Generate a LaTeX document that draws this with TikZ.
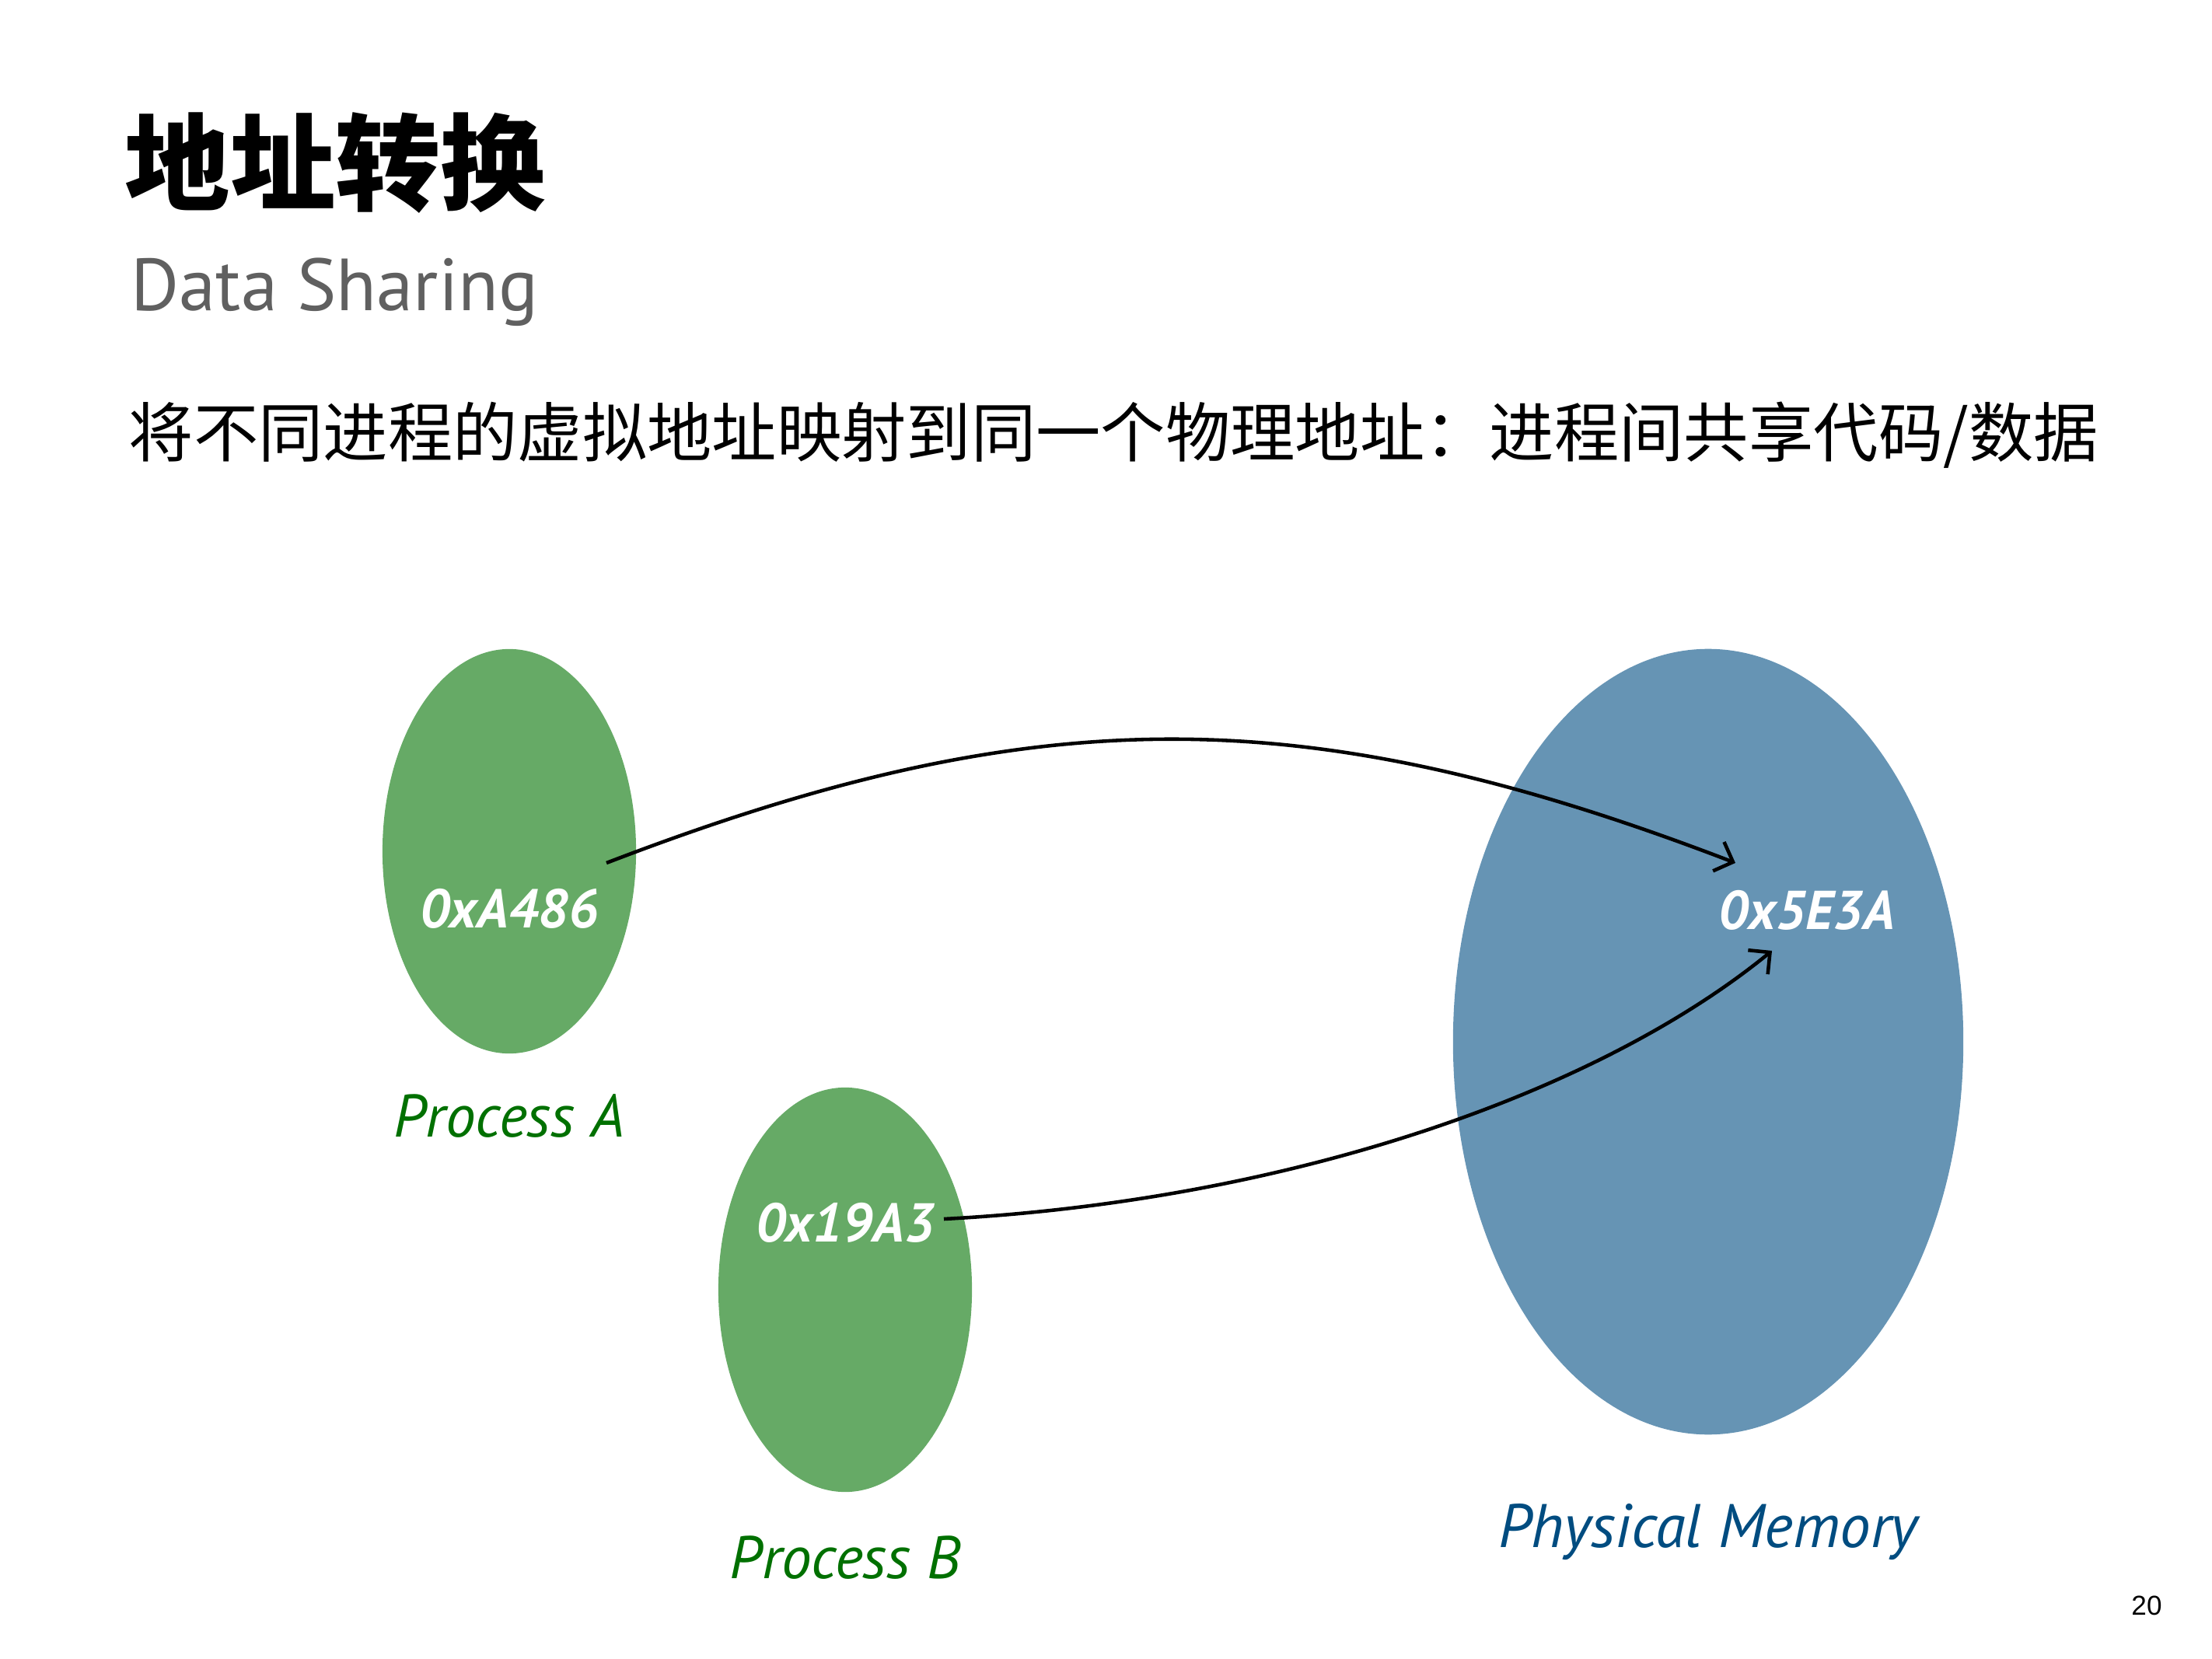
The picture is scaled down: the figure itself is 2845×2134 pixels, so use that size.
\documentclass[tikz,border=0pt]{standalone}
\usepackage{fontspec}
\setmainfont{PT Sans}
\newfontfamily\cjkfont{Noto Sans CJK SC}
\newfontfamily\pagefont{Liberation Sans}
\usetikzlibrary{arrows.meta,positioning,shapes.geometric}
\definecolor{procgreen}{RGB}{102,170,102}
\definecolor{memblue}{RGB}{102,148,180}
\definecolor{labgreen}{RGB}{0,112,0}
\definecolor{labblue}{RGB}{0,76,128}
\definecolor{subgray}{RGB}{96,96,96}
\tikzset{
  procv/.style ={ellipse, fill=procgreen, inner sep=0pt,
                 minimum width=3.26cm, minimum height=5.2cm},
  memv/.style  ={ellipse, fill=memblue, inner sep=0pt,
                 minimum width=6.56cm, minimum height=10.1cm},
  addr/.style  ={inner sep=0pt, anchor=base, text=white,
                 font=\fontsize{20}{24}\selectfont\bfseries\itshape},
  plab/.style  ={inner sep=0pt, anchor=base, text=labgreen,
                 font=\fontsize{22}{27}\selectfont\itshape},
  mlab/.style  ={inner sep=0pt, anchor=base, text=labblue,
                 font=\fontsize{22.5}{27}\selectfont\itshape},
  map/.style   ={-{Straight Barb[length=2mm,width=4mm]}, line width=1.3pt},
}
\begin{document}
\begin{tikzpicture}[x=0.01cm, y=-0.01cm]
  \useasboundingbox (0,0) rectangle (2845,2134);
  % heading
  \node[inner sep=0pt, anchor=west, font=\fontsize{38.5}{44}\selectfont\cjkfont\bfseries]
    (title) at (160,210) {地址转换};
  \node[inner sep=0pt, anchor=base west, text=subgray, font=\fontsize{27}{32}\selectfont]
    (sub) at (168,400) {Data Sharing};
  \node[inner sep=0pt, anchor=base west, font=\fontsize{23.7}{28}\selectfont\cjkfont]
    (intro) at (165,588) {将不同进程的虚拟地址映射到同一个物理地址：进程间共享代码/数据};
  % address spaces
  \node[procv] (pa) at (655,1095) {};
  \node[procv] (pb) at (1087,1659) {};
  \node[memv]  (pm) at (2197,1340) {};
  \node[addr] (xa) at (655,1193) {0xA486};
  \node[addr] (xb) at (1087,1597) {0x19A3};
  \node[addr] (xm) at (2324,1195) {0x5E3A};
  \node[plab] (la) at (655,1462) {Process A};
  \node[plab] (lb) at (1087,2030) {Process B};
  \node[mlab] (lm) at (2197,1990) {Physical Memory};
  % mappings
  \coordinate (xa-out) at (780,1110);
  \coordinate (xb-out) at (1214,1568);
  \coordinate (xm-in1) at (2232,1110);
  \coordinate (xm-in2) at (2279,1223);
  \draw[map] (xa-out) .. controls (1332,898) and (1680,898) .. (xm-in1);
  \draw[map] (xb-out) .. controls (1650,1545) and (2050,1410) .. (xm-in2);
  \node[inner sep=0pt, font=\fontsize{10}{12}\selectfont\pagefont] (pg) at (2761,2065) {20};
\end{tikzpicture}
\end{document}
